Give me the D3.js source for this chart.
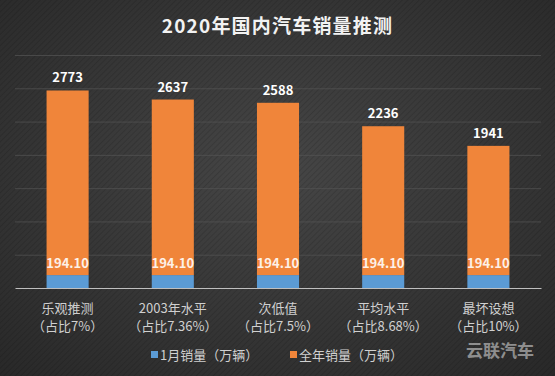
<!DOCTYPE html>
<html>
<head>
<meta charset="utf-8">
<script src="https://cdn.jsdelivr.net/npm/d3@7"></script>
<style>
  body{margin:0;background:#2e2e2e;}
  svg{display:block;font-family:"Noto Sans CJK SC","Noto Sans",sans-serif;}
</style>
</head>
<body>
<div id="chart"></div>
<script>
const title = '2020年国内汽车销量推测'
const categories = ['乐观推测', '2003年水平', '次低值', '平均水平', '最坏设想']
const shares = ['（占比7%）', '（占比7.36%）', '（占比7.5%）', '（占比8.68%）', '（占比10%）']
const january = [194.10, 194.10, 194.10, 194.10, 194.10]
const fullYear = [2773, 2637, 2588, 2236, 1941]
const seriesNames = ['1月销量（万辆）', '全年销量（万辆）']
const yTicks = [0, 500, 1000, 1500, 2000, 2500, 3000, 3500]

const width = 555, height = 376
const margin = {top: 55, left: 15, right: 14, bottom: 88}
const blue = '#5b9bd5', orange = '#f0853a'

const svg = d3.select('#chart').append('svg')
  .attr('width', width)
  .attr('height', height)
  .attr('viewBox', '0,0,' + width + ',' + height)

const defs = svg.append('defs')
const grad = defs.append('radialGradient')
  .attr('id', 'bg').attr('cx', '50%').attr('cy', '45%').attr('r', '75%')
grad.append('stop').attr('offset', '0%').attr('stop-color', '#464646')
grad.append('stop').attr('offset', '100%').attr('stop-color', '#282828')

const pat = defs.append('pattern')
  .attr('id', 'stripes').attr('width', 4).attr('height', 4)
  .attr('patternUnits', 'userSpaceOnUse')
  .attr('patternTransform', 'rotate(45)')
pat.append('rect').attr('width', 1).attr('height', 4).attr('fill', 'rgba(0,0,0,0.12)')

svg.append('rect').attr('width', width).attr('height', height).attr('fill', 'url(#bg)')
svg.append('rect').attr('width', width).attr('height', height).attr('fill', 'url(#stripes)')

svg.append('text')
  .attr('x', width / 2).attr('y', 33)
  .attr('text-anchor', 'middle')
  .attr('fill', '#f2f2f2')
  .attr('font-size', 19).attr('font-weight', 'bold')
  .attr('letter-spacing', 1.2)
  .text(title)

const x = d3.scaleBand()
  .domain(categories)
  .range([margin.left, width - margin.right])
  .paddingInner(0.6).paddingOuter(0.3)

const y = d3.scaleLinear()
  .domain([0, d3.max(yTicks)])
  .range([height - margin.bottom, margin.top])

// gridlines
svg.append('g')
  .attr('transform', `translate(${margin.left},0)`)
  .call(d3.axisLeft(y).tickValues(yTicks.slice(1)).tickSize(-(width - margin.left - margin.right)).tickFormat(''))
  .call(g => g.select('.domain').remove())
  .call(g => g.selectAll('line').attr('stroke', '#555555').attr('stroke-width', 0.7))

const data = categories.map((c, i) => ({name: c, jan: january[i], year: fullYear[i], share: shares[i]}))

// january (bottom) segment
svg.append('g').attr('fill', blue)
  .selectAll('rect').data(data).enter().append('rect')
    .attr('x', d => x(d.name))
    .attr('y', d => y(d.jan))
    .attr('width', x.bandwidth())
    .attr('height', d => y(0) - y(d.jan))

// full year segment stacked on top
svg.append('g').attr('fill', orange)
  .selectAll('rect').data(data).enter().append('rect')
    .attr('x', d => x(d.name))
    .attr('y', d => y(d.jan + d.year))
    .attr('width', x.bandwidth())
    .attr('height', d => y(d.jan) - y(d.jan + d.year))

// baseline axis
svg.append('g')
  .attr('transform', `translate(0,${y(0)})`)
  .call(d3.axisBottom(x).tickSize(0).tickFormat(''))
  .call(g => g.select('.domain').attr('stroke', '#bfbfbf').attr('stroke-width', 1))

// value labels
svg.append('g')
  .selectAll('text').data(data).enter().append('text')
    .attr('x', d => x(d.name) + x.bandwidth() / 2)
    .attr('y', d => y(d.jan + d.year) - 8)
    .attr('text-anchor', 'middle')
    .attr('fill', '#ffffff').attr('font-size', 13).attr('font-weight', 'bold')
    .text(d => d.year)

svg.append('g')
  .selectAll('text').data(data).enter().append('text')
    .attr('x', d => x(d.name) + x.bandwidth() / 2)
    .attr('y', d => y(d.jan) - 7)
    .attr('text-anchor', 'middle')
    .attr('fill', '#fdf1e8').attr('font-size', 13).attr('font-weight', 'bold')
    .text(d => d.jan.toFixed(2))

// category labels, two lines
const cat = svg.append('g')
  .selectAll('text').data(data).enter().append('text')
    .attr('text-anchor', 'middle')
    .attr('fill', '#d0d0d0').attr('font-size', 13)
cat.append('tspan')
  .attr('x', d => x(d.name) + x.bandwidth() / 2).attr('y', 313)
  .text(d => d.name)
cat.append('tspan')
  .attr('x', d => x(d.name) + x.bandwidth() / 2).attr('y', 331)
  .text(d => d.share)

// legend
const legendX = [151, 290]
const legend = svg.append('g')
  .selectAll('g').data(seriesNames).enter().append('g')
    .attr('transform', (d, i) => `translate(${legendX[i]},355)`)
legend.append('rect')
  .attr('x', 0).attr('y', -4).attr('width', 7).attr('height', 7)
  .attr('fill', (d, i) => i == 0 ? blue : orange)
legend.append('text')
  .attr('x', 9).attr('y', 5)
  .attr('fill', '#d0d0d0').attr('font-size', 13)
  .text(d => d)

// watermark logo text
svg.append('text')
  .attr('x', 500).attr('y', 357)
  .attr('text-anchor', 'middle')
  .attr('fill', 'rgba(230,230,230,0.55)')
  .attr('font-size', 17).attr('font-weight', 'bold')
  .text('云联汽车')
</script>
</body>
</html>
